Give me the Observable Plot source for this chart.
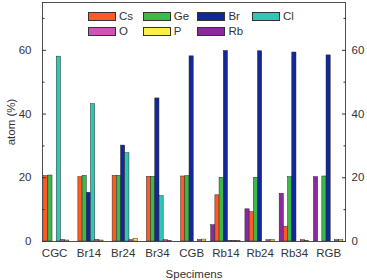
<!DOCTYPE html>
<html>
<head>
<meta charset="utf-8">
<script src="https://cdn.jsdelivr.net/npm/d3@7"></script>
<script src="https://cdn.jsdelivr.net/npm/@observablehq/plot@0.6"></script>
<style>
  body { margin: 0; background: #fff; font-family: "Liberation Sans", Arial, sans-serif; }
  #chart { position: relative; width: 367px; height: 280px; }
  .legend {
    position: absolute; left: 88px; top: 12px;
    display: grid; grid-template-columns: repeat(4, 54.7px); row-gap: 5.6px;
    font-size: 11.5px; color: #333; line-height: 9px;
  }
  .item { display: flex; align-items: center; height: 9px; }
  .sw { width: 26px; height: 7px; border: 1px solid #333; margin-right: 3px; flex: none; }
</style>
</head>
<body>
<div id="chart"></div>
<script>
// Composition (atom %) of each specimen
const specimens = ["CGC", "Br14", "Br24", "Br34", "CGB", "Rb14", "Rb24", "Rb34", "RGB"];
const Cs = [20.5, 20.2, 20.6, 20.3, 20.4, 14.5, 9.2, 4.6, 0];
const Ge = [20.7, 20.6, 20.6, 20.3, 20.5, 20.0, 20.0, 20.2, 20.4];
const Br = [0, 15.3, 30.1, 44.9, 58.1, 59.8, 59.7, 59.3, 58.4];
const Cl = [58.0, 43.1, 27.7, 14.2, 0, 0.2, 0, 0, 0];
const O  = [0.5, 0.5, 0.4, 0.4, 0.5, 0.2, 0.4, 0.4, 0.4];
const P  = [0.3, 0.3, 0.8, 0.2, 0.6, 0.1, 0.4, 0.2, 0.4];
const Rb = [0, 0, 0, 0, 0, 5.1, 10.1, 15.0, 20.2];

const yTicks = [0, 20, 40, 60];
const yMinorTicks = [10, 30, 50, 70];

// legend order and order of bars inside each group
const legendOrder = ["Cs", "Ge", "Br", "Cl", "O", "P", "Rb"];
const barOrder = ["Rb", "Cs", "Ge", "Br", "Cl", "O", "P"];
const series = { Cs, Ge, Br, Cl, O, P, Rb };
const colors = {
  Cs: "#ff5a22", Ge: "#3db84b", Br: "#12289a", Cl: "#2ec6b6",
  O: "#cc55b8", P: "#ffee45", Rb: "#8a2a9e"
};

const rows = barOrder.flatMap(el =>
  specimens.map((s, j) => ({ specimen: s, element: el, value: series[el][j] }))
);

const W = 367, H = 280;
const xRange = [37, 345.25];
const bw = (xRange[1] - xRange[0]) / specimens.length;
const barW = 4.2;
const lead = (bw - barOrder.length * barW) / 2;

const bars = barOrder.map((el, i) =>
  Plot.barY(rows.filter(d => d.element === el && d.value > 0), {
    x: "specimen", y: "value",
    fill: colors[el], stroke: "#2a2a2a", strokeWidth: 0.5,
    insetLeft: lead + i * barW,
    insetRight: bw - lead - (i + 1) * barW
  })
);

const chart = Plot.plot({
  width: W, height: H,
  marginLeft: 42, marginRight: 22, marginTop: 2, marginBottom: 39,
  style: { fontFamily: "'Liberation Sans', Arial, sans-serif", fontSize: "11.5px", color: "#333", background: "#fff" },
  x: { type: "band", domain: specimens, range: xRange, padding: 0, round: false },
  y: { domain: [0, 75] },
  marks: [
    ...bars,
    Plot.frame({ stroke: "#262626", strokeWidth: 0.8 }),
    Plot.axisX({ tickSize: 0, tickPadding: 7, label: "Specimens", labelAnchor: "center", labelOffset: 36, labelArrow: "none" }),
    Plot.axisY({ anchor: "left", ticks: yTicks, tickSize: 0, tickPadding: 11, label: "atom (%)", labelAnchor: "center", labelOffset: 36, labelArrow: "none" }),
    Plot.axisY({ anchor: "left", ticks: yTicks, tickSize: -4, fill: "none", label: null }),
    Plot.axisY({ anchor: "left", ticks: yMinorTicks, tickSize: -2.5, fill: "none", label: null }),
    Plot.axisY({ anchor: "right", ticks: yTicks, tickSize: 0, tickPadding: 6, label: null }),
    Plot.axisY({ anchor: "right", ticks: yTicks, tickSize: -4, fill: "none", label: null }),
    Plot.axisY({ anchor: "right", ticks: yMinorTicks, tickSize: -2.5, fill: "none", label: null })
  ]
});

const root = document.getElementById("chart");
root.appendChild(chart);

// legend drawn over the top of the plot area
const legend = document.createElement("div");
legend.className = "legend";
for (const el of legendOrder) {
  const item = document.createElement("div");
  item.className = "item";
  const sw = document.createElement("span");
  sw.className = "sw";
  sw.style.background = colors[el];
  const label = document.createElement("span");
  label.textContent = el;
  item.append(sw, label);
  legend.appendChild(item);
}
root.appendChild(legend);
</script>
</body>
</html>
